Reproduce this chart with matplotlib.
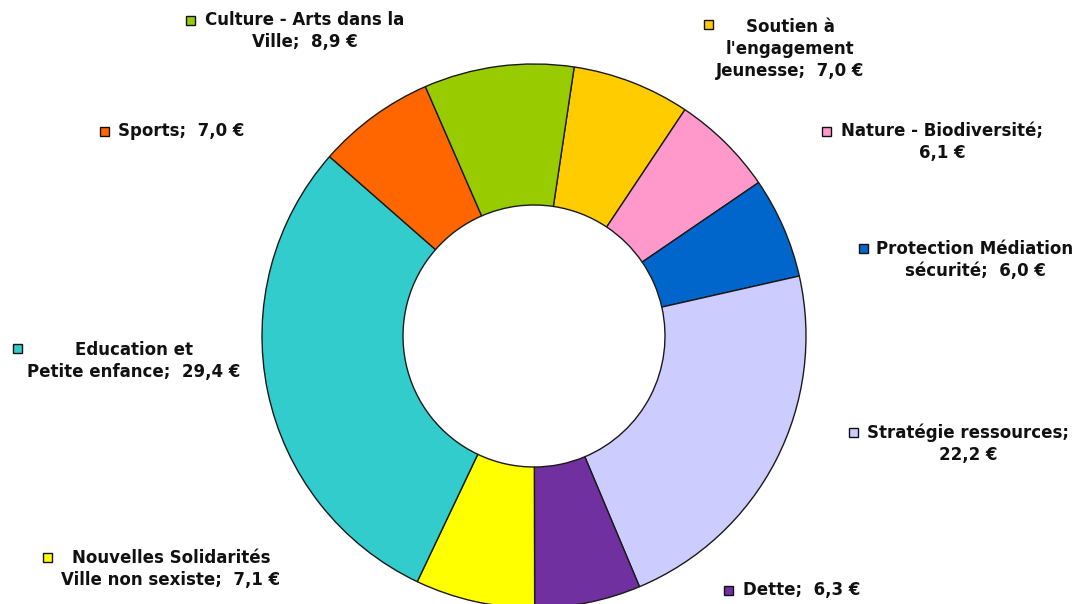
import matplotlib.pyplot as plt
from matplotlib.patches import Rectangle

# budget split, clockwise from the top
names = ['Soutien à\nl\'engagement\nJeunesse', 'Nature - Biodiversité;\n', 'Protection Médiation\nsécurité',
         'Stratégie ressources;\n', 'Dette', 'Nouvelles Solidarités\nVille non sexiste',
         'Education et\nPetite enfance', 'Sports', 'Culture - Arts dans la\nVille']
values = [7.0, 6.1, 6.0, 22.2, 6.3, 7.1, 29.4, 7.0, 8.9]
colors = ['#FFCC00', '#FF99CC', '#0066CC', '#CCCCFF', '#7030A0', '#FFFF00', '#33CCCC', '#FF6600', '#99CC00']

# label layout in pixels (text block centre x, y, key x, key y)
label_pos = [(790, 49, 708, 24), (942, 142, 826, 131), (975, 260, 863, 248),
             (968, 444, 853, 432), (802, 590, 728, 590), (171, 569, 47, 557),
             (134, 361, 17, 348), (181, 131, 104, 131), (305, 31, 190, 20)]

W, H = 1076, 604


def fmt_label(name, val):
    val_txt = f'{val:.1f}'.replace('.', ',') + ' €'
    if name.endswith(';\n'):
        return name + val_txt
    return name + ';  ' + val_txt


fig = plt.figure(figsize=(W / 100, H / 100), dpi=100)
ax = fig.add_axes([0, 0, 1, 1])

ax.pie(values, colors=colors, startangle=81.5, counterclock=False,
       center=(534, H - 336), radius=272,
       wedgeprops={'width': 141, 'edgecolor': '#1a1a1a', 'linewidth': 1.0})

for name, val, col, (tx, ty, kx, ky) in zip(names, values, colors, label_pos):
    ax.text(tx, H - ty, fmt_label(name, val), ha='center', va='center', multialignment='center',
            fontsize=12, fontweight='bold', family='DejaVu Sans', linespacing=1.32,
            color='#111111')
    ax.add_patch(Rectangle((kx - 4.5, H - ky - 4.5), 9, 9, facecolor=col, edgecolor='#111111', lw=1.0))

ax.set_xlim(0, W)
ax.set_ylim(0, H)
ax.set_aspect('equal')
ax.axis('off')

plt.savefig('out.png', dpi=100)
